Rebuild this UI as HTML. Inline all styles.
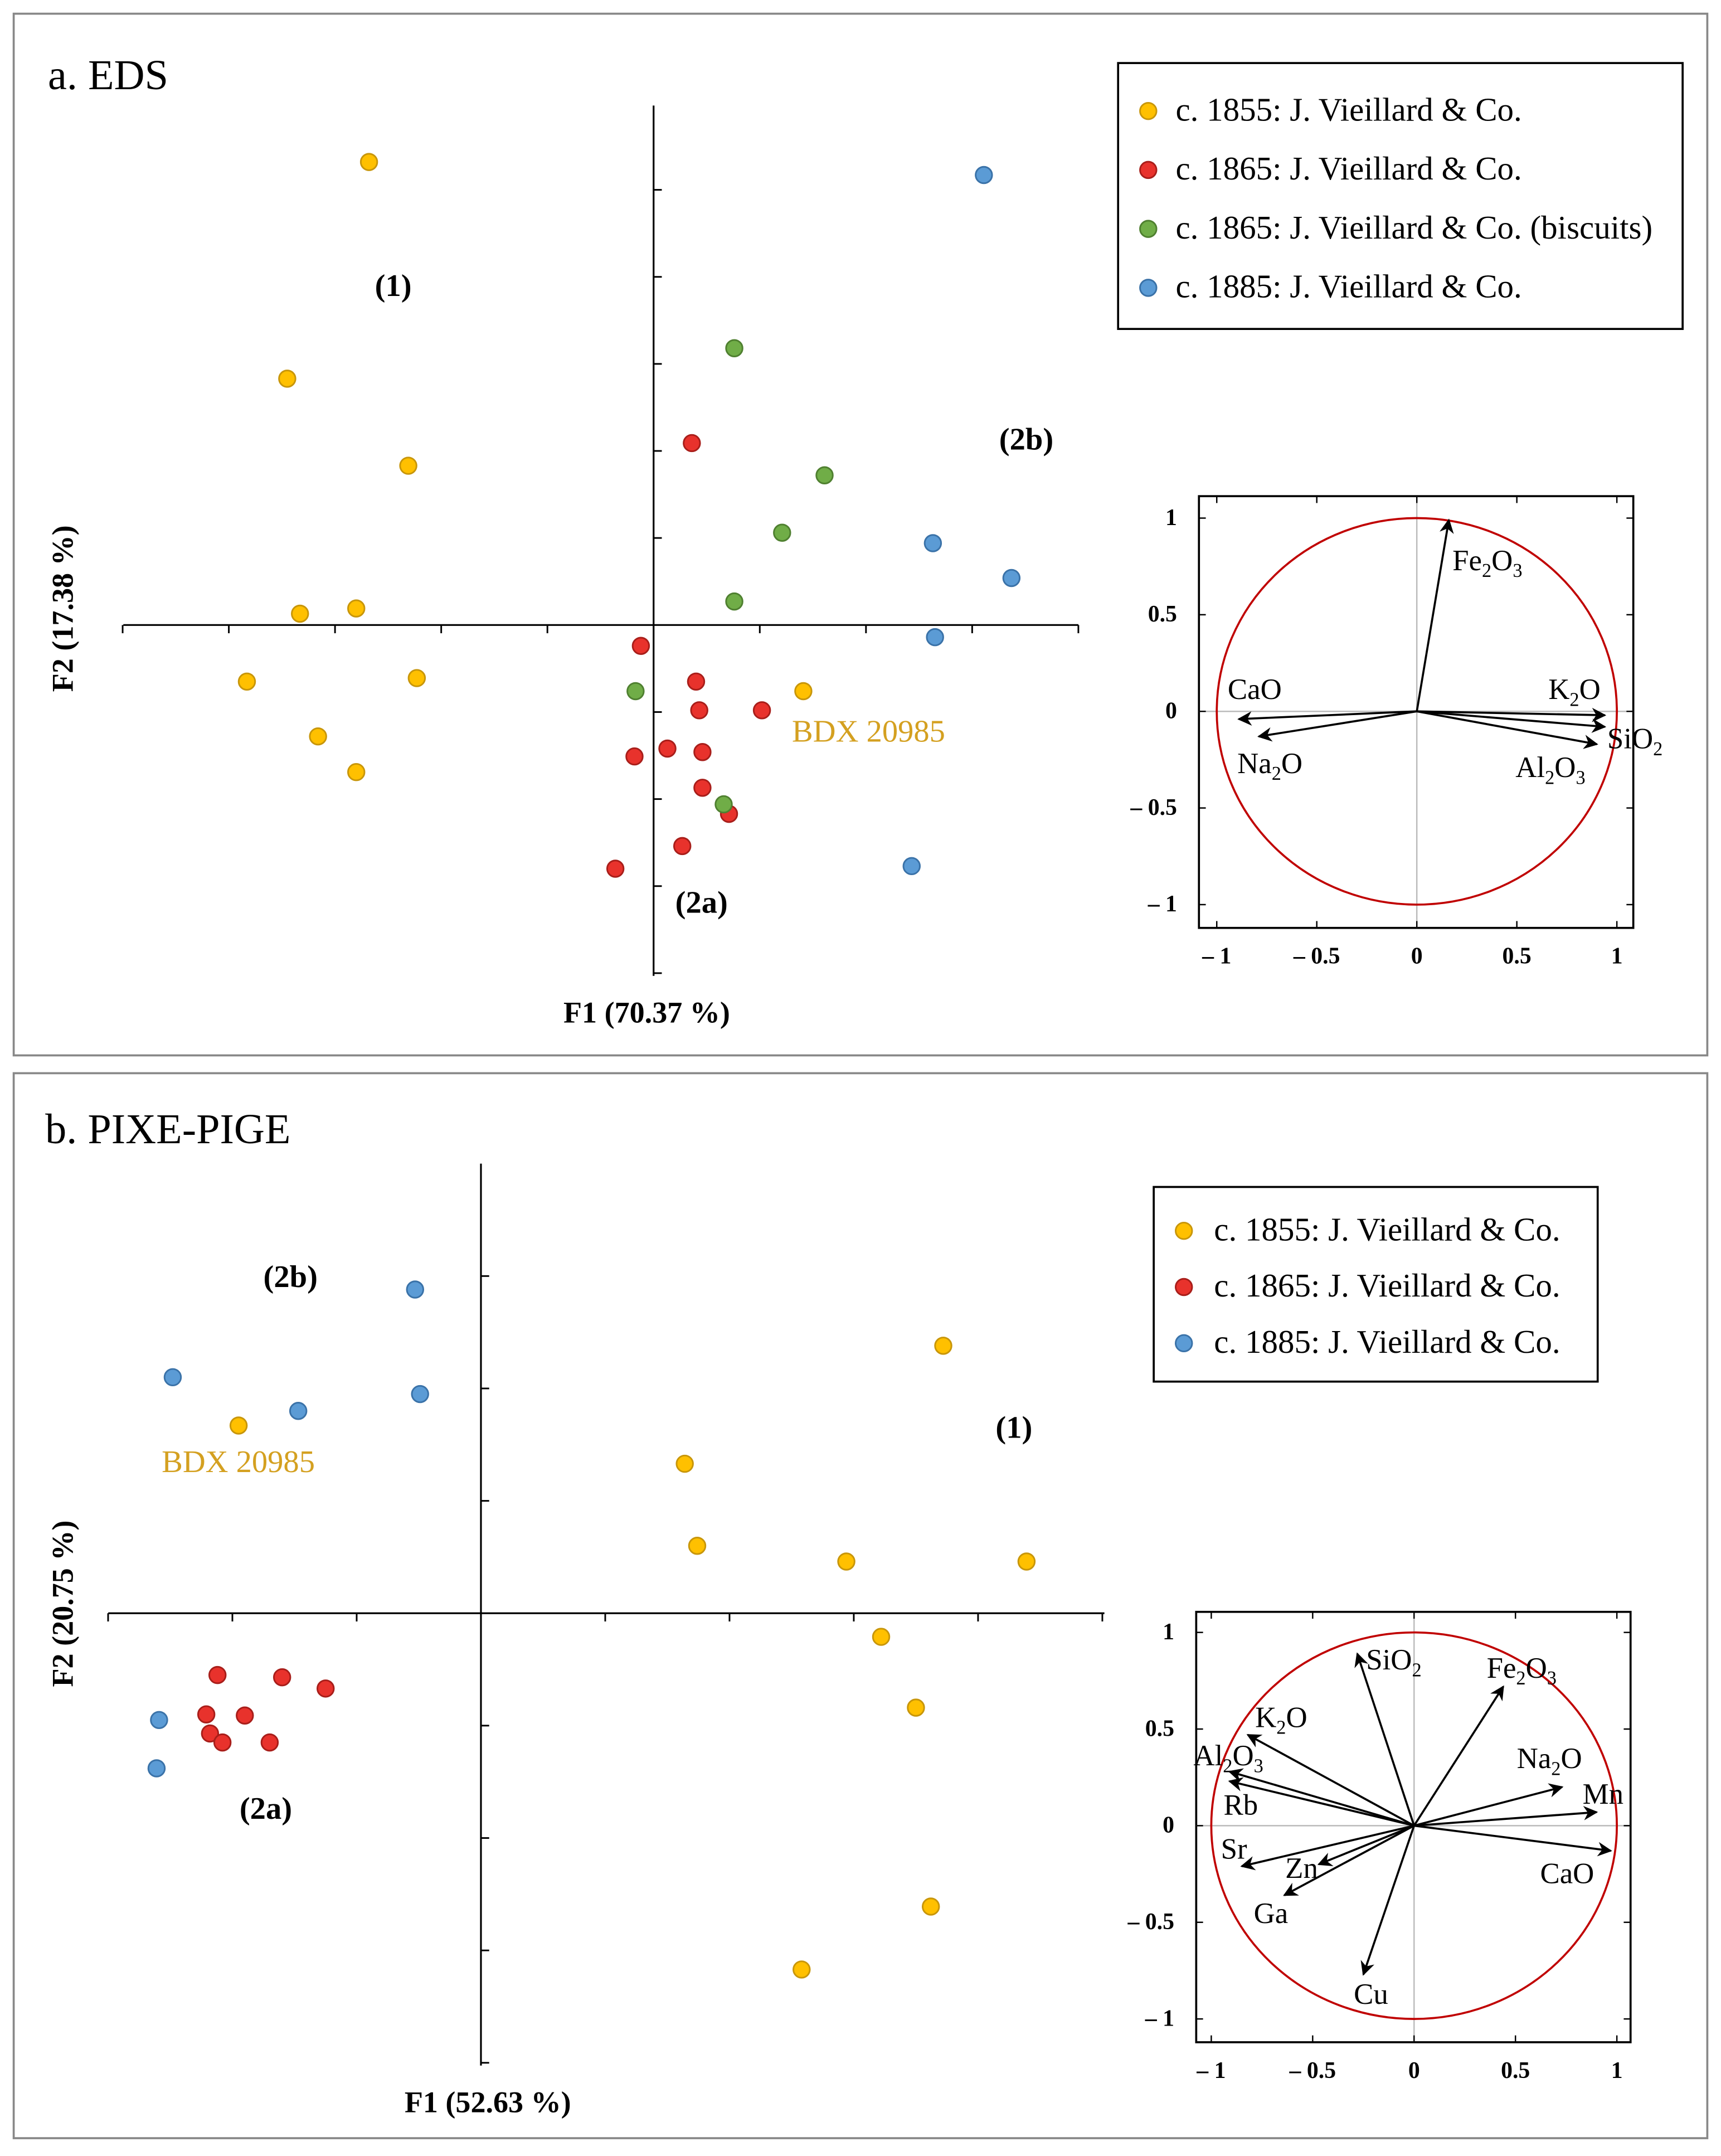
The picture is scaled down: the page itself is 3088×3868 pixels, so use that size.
<!DOCTYPE html>
<html><head><meta charset="utf-8"><style>
html,body{margin:0;padding:0;background:#fff}
svg{display:block;font-family:"Liberation Serif",serif}
</style></head><body>
<svg id="s" width="3088" height="3868" viewBox="0 0 1256 1573" preserveAspectRatio="none" xmlns="http://www.w3.org/2000/svg">
<defs><marker id="ah" viewBox="0 0 10 10" refX="9" refY="5" markerWidth="7" markerHeight="7" orient="auto-start-reverse"><path d="M0,0 L10,5 L0,10 L3,5 z" fill="#000"/></marker></defs>
<rect x="10" y="10" width="1236" height="760" fill="none" stroke="#888" stroke-width="1.5"/>
<rect x="10" y="783" width="1236" height="777" fill="none" stroke="#888" stroke-width="1.5"/>
<text x="35" y="65" font-size="31">a. EDS</text>
<text x="33" y="834" font-size="31">b. PIXE-PIGE</text>
<g id="ga"></g><g id="gb"></g>
</svg>
<script>
// Panel a data (F1/F2 scores)
const aYellowX=[-2.68,-3.45,-2.31,-3.33,-2.80,-3.83,-2.23,-3.16,-2.80,1.41];
const aYellowY=[5.32,2.83,1.83,0.13,0.19,-0.65,-0.61,-1.28,-1.69,-0.76];
const aRedX=[0.36,-0.12,0.40,0.43,1.02,0.13,-0.18,0.46,0.46,0.71,0.27,-0.36];
const aRedY=[2.09,-0.24,-0.65,-0.98,-0.98,-1.42,-1.51,-1.46,-1.87,-2.17,-2.54,-2.80];
const aGreenX=[0.76,1.61,1.21,0.76,-0.17,0.66];
const aGreenY=[3.18,1.72,1.06,0.27,-0.76,-2.06];
const aBlueX=[3.11,2.63,3.37,2.65,2.43];
const aBlueY=[5.17,0.94,0.54,-0.14,-2.77];
// Panel b data
const bYellowX=[3.72,1.64,1.74,2.94,4.39,3.22,3.50,3.62,2.58,-1.95];
const bYellowY=[2.38,1.33,0.60,0.46,0.46,-0.21,-0.84,-2.61,-3.17,1.67];
const bRedX=[-2.12,-1.60,-1.25,-2.21,-1.90,-2.18,-2.08,-1.70];
const bRedY=[-0.55,-0.57,-0.67,-0.90,-0.91,-1.07,-1.15,-1.15];
const bBlueX=[-0.53,-2.48,-1.47,-0.49,-2.59,-2.61];
const bBlueY=[2.88,2.10,1.80,1.95,-0.95,-1.38];
// Correlation circle loadings
const aVarNames=["Fe2O3","K2O","SiO2","Al2O3","CaO","Na2O"];
const aVarX=[0.16,0.94,0.94,0.90,-0.89,-0.79];
const aVarY=[0.99,-0.02,-0.08,-0.17,-0.04,-0.13];
const bVarNames=["SiO2","Fe2O3","K2O","Al2O3","Rb","Na2O","Mn","CaO","Sr","Zn","Ga","Cu"];
const bVarX=[-0.28,0.44,-0.82,-0.91,-0.91,0.73,0.90,0.97,-0.85,-0.47,-0.64,-0.25];
const bVarY=[0.89,0.72,0.47,0.28,0.23,0.20,0.07,-0.13,-0.21,-0.20,-0.36,-0.77];

const NS="http://www.w3.org/2000/svg";
function mk(p,tag,at,txt){const e=document.createElementNS(NS,tag);for(const k in at)e.setAttribute(k,at[k]);if(txt!==undefined)e.textContent=txt;p.appendChild(e);return e;}
function sub(p,x,y,s,size,anchor,fill){
  const t=mk(p,'text',{x:x,y:y,'font-size':size,'text-anchor':anchor||'start',fill:fill||'#000'});
  const parts=s.match(/[A-Za-z]+|\d+/g);
  parts.forEach(pt=>{if(/\d/.test(pt)){mk(t,'tspan',{'font-size':size*0.65,dy:5},pt);}else{const ts=mk(t,'tspan',{},pt);if(t.childNodes.length>1&&/\d/.test(t.childNodes[t.childNodes.length-2].textContent))ts.setAttribute('dy',-5);}});
  return t;
}
const COL={y:["#FFC000","#C8960A"],r:["#E8322C","#A81E1A"],g:["#70AD47","#4F8030"],b:["#5B9BD5","#3A72A8"]};

function scatter(g,cx,cy,ux,uy,x0,x1,y0,y1,xt,yt,series,prefix){
  const X=v=>cx+v*ux,Y=v=>cy-v*uy;
  let e=mk(g,'line',{x1:x0,x2:x1,y1:cy,y2:cy,stroke:'#000','stroke-width':1.3});
  
  e=mk(g,'line',{x1:cx,x2:cx,y1:y0,y2:y1,stroke:'#000','stroke-width':1.3});
  
  xt.forEach(v=>{const t=mk(g,'line',{x1:X(v),x2:X(v),y1:cy,y2:cy+6,stroke:'#000','stroke-width':1.2});});
  yt.forEach(v=>{const t=mk(g,'line',{x1:cx,x2:cx+6,y1:Y(v),y2:Y(v),stroke:'#000','stroke-width':1.2});});
  series.forEach(s=>{s.x.forEach((v,i)=>{const c=mk(g,'circle',{cx:X(v),cy:Y(s.y[i]),r:6,fill:COL[s.c][0],stroke:COL[s.c][1],'stroke-width':1.2});
    });});
}
function circlePlot(g,fx,fy,fw,fh,cx,cy,rx,ry,names,vx,vy,labelPos,prefix){
  let e=mk(g,'rect',{x:fx,y:fy,width:fw,height:fh,fill:'#fff',stroke:'#000','stroke-width':1.5});
  
  mk(g,'line',{x1:fx,x2:fx+fw,y1:cy,y2:cy,stroke:'#bbb','stroke-width':1});
  mk(g,'line',{x1:cx,x2:cx,y1:fy,y2:fy+fh,stroke:'#bbb','stroke-width':1});
  e=mk(g,'ellipse',{cx:cx,cy:cy,rx:rx,ry:ry,fill:'none',stroke:'#C00000','stroke-width':1.5});
  
  const tv=[-1,-0.5,0,0.5,1],tl=["– 1","– 0.5","0","0.5","1"];
  tv.forEach((v,i)=>{const x=cx+v*rx,y=cy-v*ry;
    mk(g,'line',{x1:x,x2:x,y1:fy+fh,y2:fy+fh-5,stroke:'#000'});mk(g,'line',{x1:x,x2:x,y1:fy,y2:fy+5,stroke:'#000'});
    mk(g,'line',{x1:fx,x2:fx+5,y1:y,y2:y,stroke:'#000'});mk(g,'line',{x1:fx+fw,x2:fx+fw-5,y1:y,y2:y,stroke:'#000'});
    let t=mk(g,'text',{x:x,y:fy+fh+26,'font-size':17,'font-weight':'bold','text-anchor':'middle'},tl[i]);
    t=mk(g,'text',{x:fx-16,y:y+5,'font-size':17,'font-weight':'bold','text-anchor':'end'},tl[i]);
  });
  names.forEach((n,i)=>{const a=mk(g,'line',{x1:cx,y1:cy,x2:cx+vx[i]*rx,y2:cy-vy[i]*ry,stroke:'#000','stroke-width':1.5,'marker-end':'url(#ah)'});
    
    const lp=labelPos[i];const t=sub(g,lp[0],lp[1],n,21.5,lp[2]);
    });
}
function legend(g,x,y,w,h,items,mx,tx,ys,prefix){
  let e=mk(g,'rect',{x:x,y:y,width:w,height:h,fill:'#fff',stroke:'#000','stroke-width':1.5});
  
  items.forEach((it,i)=>{const c=mk(g,'circle',{cx:mx,cy:ys[i],r:6,fill:COL[it[0]][0],stroke:COL[it[0]][1],'stroke-width':1.2});
    
    const t=mk(g,'text',{x:tx,y:ys[i]+7,'font-size':24},it[1]);});
}
function txt(g,x,y,s,size,opts,name){const t=mk(g,'text',Object.assign({x:x,y:y,'font-size':size},opts||{}),s);return t;}

const ga=document.getElementById('ga'),gb=document.getElementById('gb');
scatter(ga,477,456,77.5,63.5,90,787,77,712,[-5,-4,-3,-2,-1,1,2,3,4],[5,4,3,2,1,-1,-2,-3,-4],
 [{x:aYellowX,y:aYellowY,c:'y',n:'1855'},{x:aRedX,y:aRedY,c:'r',n:'1865'},{x:aGreenX,y:aGreenY,c:'g',n:'1865-biscuit'},{x:aBlueX,y:aBlueY,c:'b',n:'1885'}],'eds');
txt(ga,287,216,'(1)',23,{'font-weight':'bold','text-anchor':'middle'},'group-1-label');
txt(ga,749,328,'(2b)',23,{'font-weight':'bold','text-anchor':'middle'},'group-2b-label');
txt(ga,512,666,'(2a)',23,{'font-weight':'bold','text-anchor':'middle'},'group-2a-label');
txt(ga,578,541,'BDX 20985',23,{fill:'#D4A020'},'sample-label-bdx');
txt(ga,472,746,'F1 (70.37 %)',22,{'font-weight':'bold','text-anchor':'middle'},'x-axis-title');
txt(ga,0,0,'F2 (17.38 %)',22,{'font-weight':'bold','text-anchor':'middle',transform:'translate(53,444) rotate(-90)'},'y-axis-title');
legend(ga,816,46,412,194,[['y','c. 1855: J. Vieillard & Co.'],['r','c. 1865: J. Vieillard & Co.'],['g','c. 1865: J. Vieillard & Co. (biscuits)'],['b','c. 1885: J. Vieillard & Co.']],838,858,[81,124,167,210],'eds');
circlePlot(ga,875,362,317,315,1034,519,146,141,aVarNames,aVarX,aVarY,
 [[1060,416,'start'],[1130,510,'start'],[1173,546,'start'],[1106,567,'start'],[896,510,'start'],[903,564,'start']],'eds-circle');

scatter(gb,351,1177,90.7,82,79,806,849,1507,[-3,-2,-1,1,2,3,4,5],[3,2,1,-1,-2,-3,-4],
 [{x:bYellowX,y:bYellowY,c:'y',n:'1855'},{x:bRedX,y:bRedY,c:'r',n:'1865'},{x:bBlueX,y:bBlueY,c:'b',n:'1885'}],'pixe');
txt(gb,212,939,'(2b)',23,{'font-weight':'bold','text-anchor':'middle'},'group-2b-label');
txt(gb,740,1049,'(1)',23,{'font-weight':'bold','text-anchor':'middle'},'group-1-label');
txt(gb,194,1327,'(2a)',23,{'font-weight':'bold','text-anchor':'middle'},'group-2a-label');
txt(gb,118,1074,'BDX 20985',23,{fill:'#D4A020'},'sample-label-bdx');
txt(gb,356,1541,'F1 (52.63 %)',22,{'font-weight':'bold','text-anchor':'middle'},'x-axis-title');
txt(gb,0,0,'F2 (20.75 %)',22,{'font-weight':'bold','text-anchor':'middle',transform:'translate(53,1170) rotate(-90)'},'y-axis-title');
legend(gb,842,866,324,142,[['y','c. 1855: J. Vieillard & Co.'],['r','c. 1865: J. Vieillard & Co.'],['b','c. 1885: J. Vieillard & Co.']],864,886,[898,939,980],'pixe');
circlePlot(gb,873,1176,317,314,1032,1332,148,141,bVarNames,bVarX,bVarY,
 [[997,1218,'start'],[1085,1224,'start'],[916,1260,'start'],[871,1288,'start'],[893,1324,'start'],[1107,1290,'start'],[1155,1316,'start'],[1124,1374,'start'],[891,1356,'start'],[938,1370,'start'],[915,1403,'start'],[988,1462,'start']],'pixe-circle');
</script>
</body></html>
